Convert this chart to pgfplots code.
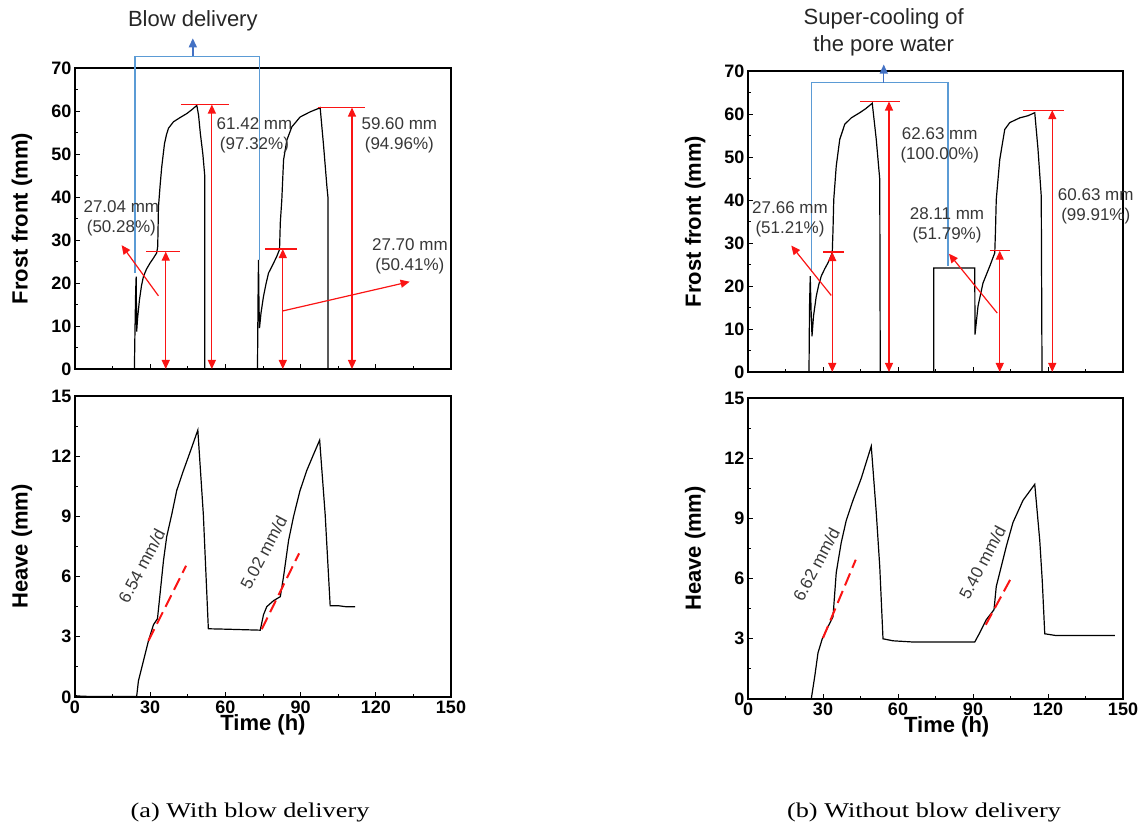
\documentclass[border=0pt]{standalone}
\usepackage{fontspec}
\setmainfont{Liberation Sans}
\newfontfamily\capfont{Liberation Serif}
\usepackage{graphicx}
\usepackage{pgfplots}
\pgfplotsset{compat=1.18}
\usetikzlibrary{arrows.meta}

\definecolor{bluebr}{RGB}{91,155,213}
\definecolor{blueah}{RGB}{68,114,196}
\definecolor{annot}{RGB}{55,55,55}
\definecolor{myred}{RGB}{250,20,20}

\pgfplotsset{
 myaxis/.style={
  scale only axis, width=376pt, height=301pt, anchor=south west,
  xmin=0, xmax=150, xtick={0,30,...,150}, minor x tick num=1,
  tick align=inside, xtick pos=left, ytick pos=left,
  major tick length=5pt, minor tick length=3pt,
  tick style={black, line width=0.9pt},
  axis line style={line width=1.1pt},
  ticklabel style={font=\fontsize{18}{18}\selectfont\bfseries},
  /pgf/number format/assume math mode=true,
  clip=false,
  every axis y label/.style={at={(axis description cs:-0.141,0.5)}, rotate=90, anchor=center, font=\fontsize{22}{22}\selectfont\bfseries},
  every axis x label/.style={at={(axis description cs:0.5,-0.093)}, anchor=center, font=\fontsize{22}{22}\selectfont\bfseries},
 },
 curve/.style={black, line width=1.2pt, no marks},
}
\tikzset{
 txt/.style={font=\fontsize{17}{20}\selectfont, annot, align=center},
 rl/.style={myred, line width=1.2pt},
 da/.style={myred, line width=1.2pt, {Triangle[length=9pt,width=8pt]}-{Triangle[length=9pt,width=8pt]}},
 sa/.style={myred, line width=1.2pt, -{Triangle[length=9pt,width=8pt]}},
 bl/.style={bluebr, line width=1.4pt},
 ba/.style={blueah, line width=1.4pt, -{Triangle[length=9pt,width=8pt]}},
 dd/.style={myred, line width=2pt, dash pattern=on 13pt off 6pt},
}

\pgfplotstableread{
x y
23.7 0
23.9 8
24.2 18
24.4 21.5
24.6 8.7
25.0 12
25.7 16
26.5 19.3
27.3 21.5
28.5 23.2
29.9 24.6
31.3 25.8
32.6 27.0
33.0 28.5
33.3 37.7
34.0 43
34.6 47
35.7 52.4
36.5 54.5
37.3 56.0
39.3 57.5
42.0 58.5
44.6 59.4
46.6 60.3
48.6 61.3
49.3 59
50.0 54.8
51.0 50
51.8 44.7
51.8 0
}\ffaone
\pgfplotstableread{
x y
72.8 0
73.0 15
73.2 25.4
73.4 15
73.6 9.5
74.2 13
75.2 16.9
76.2 19.8
77.2 22.3
79.2 24.6
80.5 26.2
81.6 27.8
81.9 34
82.5 39.3
83.2 48.6
84.5 53.2
86.5 56.3
89.8 58.6
93.8 59.8
97.2 60.6
97.8 60.8
99.2 51.7
100.5 42.4
100.9 40
100.9 0
}\ffatwo
\pgfplotstableread{
x y
0 0.08
1 0.05
5 0.03
24.6 0.03
25.3 0.8
27.3 1.8
29.3 2.8
31.3 3.6
32.9 3.9
33.9 5.1
35.3 6.8
36.6 8.0
38.6 9.1
40.6 10.3
43.3 11.3
45.9 12.2
49.0 13.3
51.2 9.1
53.2 3.4
60 3.38
73.9 3.33
75.2 4.1
76.5 4.5
79.2 4.8
81.9 5.0
83.2 6.0
85.2 7.8
87.2 9.0
89.8 10.3
92.5 11.3
95.2 12.1
97.6 12.8
99.8 9.1
101.8 4.55
105 4.55
108 4.5
111.8 4.5
}\heavea
\pgfplotstableread{
x y
24.4 0
24.6 15
24.9 22.3
25.2 15
25.6 8.3
26.2 13
27.3 17.6
28.3 20.3
29.3 22.3
30.7 24.0
32.0 25.4
33.7 27.7
34.0 33
34.3 40.1
35.3 47.9
36.7 54.1
38.7 57.6
41.3 59.1
44.7 60.3
47.0 61.2
49.7 62.5
51.3 54.1
52.7 44.8
52.9 0
}\ffbone
\pgfplotstableread{
x y
74.3 0
74.3 24.2
90.7 24.2
90.8 8.7
92.0 15.3
94.0 20.7
96.7 24.6
98.7 27.7
99.0 33
99.3 40.1
100.7 49.4
102.7 56.4
104.7 58.0
108.7 59.1
112.0 59.6
114.7 60.3
116.0 51.8
117.3 40.9
117.6 0
}\ffbtwo
\pgfplotstableread{
x y
25.3 0
26.7 1.13
28.0 2.3
29.7 3.0
32.0 3.6
34.0 4.1
35.3 6.3
37.3 7.8
39.3 8.9
42.0 9.9
45.3 11.0
49.3 12.6
51.3 9.3
52.7 6.6
54.0 3.0
58 2.9
66 2.84
90.7 2.84
92.7 3.3
95.3 3.95
98.4 4.45
99.3 5.6
101.3 6.6
103.3 7.6
106.0 8.8
110.0 9.9
114.7 10.7
116.7 7.9
117.7 5.9
118.7 3.25
123.3 3.16
146.7 3.16
}\heaveb

\begin{document}
\begin{tikzpicture}
\path[use as bounding box] (0,0) rectangle (1141pt,825pt);

% ---------- (a) top ----------
\begin{axis}[myaxis, at={(75pt,456pt)}, ymin=0, ymax=70, ytick={0,10,...,70}, minor y tick num=1,
  xticklabels={}, ylabel={Frost front (mm)}]
\addplot[curve] table {\ffaone};
\addplot[curve] table {\ffatwo};
% blue bracket
\draw[bl] (axis cs:24.0,22.3) -- (axis cs:24.0,72.7) -- (axis cs:73.6,72.7) -- (axis cs:73.6,25.4);
\draw[ba] (axis cs:47,72.7) -- (axis cs:47,76.9);
\node[font=\fontsize{22}{22}\selectfont, black!85] at (axis cs:47,81.0) {Blow delivery};
% red annotations
\draw[rl] (axis cs:28.4,27.3) -- (axis cs:41.9,27.3);
\draw[da] (axis cs:36.2,27.3) -- (axis cs:36.2,0);
\draw[rl] (axis cs:42.2,61.5) -- (axis cs:61.4,61.5);
\draw[da] (axis cs:54.6,61.5) -- (axis cs:54.6,0);
\draw[rl] (axis cs:75.9,27.9) -- (axis cs:88.5,27.9);
\draw[da] (axis cs:82.9,27.9) -- (axis cs:82.9,0);
\draw[rl] (axis cs:96.8,60.8) -- (axis cs:115.8,60.8);
\draw[da] (axis cs:110.5,60.8) -- (axis cs:110.5,0);
\draw[sa] (axis cs:33.3,17.0) -- (axis cs:18.6,28.8);
\draw[sa] (axis cs:82.9,13.5) -- (axis cs:133.5,20.3);
\node[txt] at (axis cs:18.5,35.0) {27.04 mm\\(50.28\%)};
\node[txt] at (axis cs:71.6,54.4) {61.42 mm\\(97.32\%)};
\node[txt] at (axis cs:129.4,54.4) {59.60 mm\\(94.96\%)};
\node[txt] at (axis cs:133.6,26.2) {27.70 mm\\(50.41\%)};
\end{axis}

% ---------- (a) bottom ----------
\begin{axis}[myaxis, at={(75pt,128pt)}, ymin=0, ymax=15, ytick={0,3,...,15}, minor y tick num=1,
  xlabel={Time (h)}, ylabel={Heave (mm)}]
\addplot[curve] table {\heavea};
\draw[dd] (axis cs:29.3,2.8) -- (axis cs:44.3,6.54);
\draw[dd] (axis cs:74.5,3.38) -- (axis cs:89.4,7.16);
\node[txt, rotate=62] at (axis cs:26.6,6.54) {6.54 mm/d};
\node[txt, rotate=62] at (axis cs:75.2,7.2) {5.02 mm/d};
\end{axis}

% ---------- (b) top ----------
\begin{axis}[myaxis, width=375pt, at={(748pt,453pt)}, ymin=0, ymax=70, ytick={0,10,...,70}, minor y tick num=1,
  xticklabels={}, ylabel={Frost front (mm)}]
\addplot[curve] table {\ffbone};
\addplot[curve] table {\ffbtwo};
\draw[bl] (axis cs:25.3,23.2) -- (axis cs:25.3,67.3) -- (axis cs:80.0,67.3) -- (axis cs:80.0,24.6);
\draw[ba] (axis cs:54.3,67.3) -- (axis cs:54.3,71.5);
\node[font=\fontsize{22}{27}\selectfont, black!85, align=center] at (axis cs:54.3,79.1) {Super-cooling of\\the pore water};
\draw[rl] (axis cs:30.0,27.9) -- (axis cs:38.3,27.9);
\draw[da] (axis cs:33.7,27.9) -- (axis cs:33.7,0);
\draw[rl] (axis cs:44.7,62.9) -- (axis cs:60.9,62.9);
\draw[da] (axis cs:56.4,62.9) -- (axis cs:56.4,0);
\draw[rl] (axis cs:96.7,28.2) -- (axis cs:104.9,28.2);
\draw[da] (axis cs:100.7,28.2) -- (axis cs:100.7,0);
\draw[rl] (axis cs:110.0,60.9) -- (axis cs:126.3,60.9);
\draw[da] (axis cs:121.7,60.9) -- (axis cs:121.7,0);
\draw[sa] (axis cs:33.3,17.8) -- (axis cs:17.3,29.4);
\draw[sa] (axis cs:99.7,13.7) -- (axis cs:80.4,27.5);
\node[txt] at (axis cs:16.8,35.5) {27.66 mm\\(51.21\%)};
\node[txt] at (axis cs:76.7,52.7) {62.63 mm\\(100.00\%)};
\node[txt] at (axis cs:79.6,34.1) {28.11 mm\\(51.79\%)};
\node[txt] at (axis cs:139.1,38.5) {60.63 mm\\(99.91\%)};
\end{axis}

% ---------- (b) bottom ----------
\begin{axis}[myaxis, width=375pt, at={(748pt,126pt)}, ymin=0, ymax=15, ytick={0,3,...,15}, minor y tick num=1,
  xlabel={Time (h)}, ylabel={Heave (mm)},
  every axis x label/.style={at={(axis description cs:0.53,-0.093)}, anchor=center, font=\fontsize{22}{22}\selectfont\bfseries}]
\addplot[curve] table {\heaveb};
\draw[dd] (axis cs:30.0,3.04) -- (axis cs:43.1,6.94);
\draw[dd] (axis cs:95.1,3.7) -- (axis cs:104.9,5.95);
\node[txt, rotate=62] at (axis cs:27.3,6.7) {6.62 mm/d};
\node[txt, rotate=62] at (axis cs:93.7,6.8) {5.40 mm/d};
\end{axis}

% captions
\node[anchor=base, font=\capfont\fontsize{21}{21}\selectfont] at (250pt,8pt) {\scalebox{1.25}[1]{(a) With blow delivery}};
\node[anchor=base, font=\capfont\fontsize{21}{21}\selectfont] at (924pt,8pt) {\scalebox{1.25}[1]{(b) Without blow delivery}};
\end{tikzpicture}
\end{document}
